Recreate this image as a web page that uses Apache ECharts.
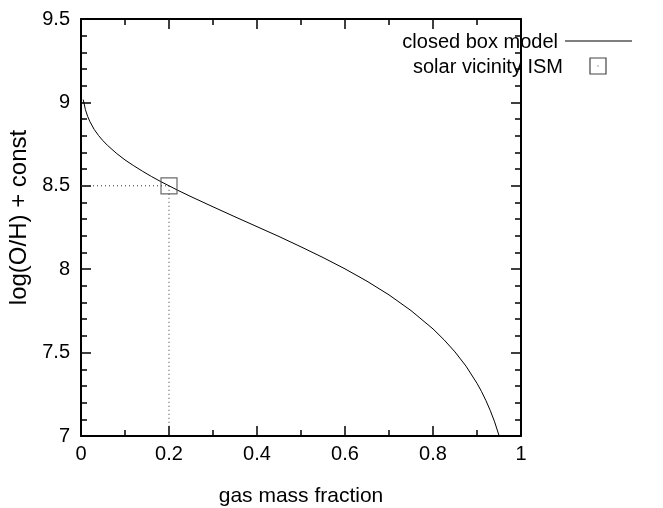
<!DOCTYPE html>
<html><head><meta charset="utf-8">
<script src="https://cdn.jsdelivr.net/npm/echarts@6/dist/echarts.min.js"></script>
<style>html,body{margin:0;padding:0;background:#fff}#c{width:663px;height:508px}</style>
</head><body><div id="c"></div>
<script>
// closed box model curve
const modelX = [0.005,0.01,0.015,0.02,0.03,0.04,0.05,0.06,0.08,0.1,0.12,0.14,0.16,0.18,0.2,0.22,0.25,0.3,0.35,0.4,0.45,0.5,0.55,0.6,0.65,0.7,0.75,0.8,0.825,0.85,0.875,0.9,0.91,0.92,0.93,0.94,0.95];
const modelY = [9.017,8.957,8.917,8.886,8.838,8.801,8.770,8.743,8.696,8.655,8.620,8.587,8.556,8.527,8.500,8.473,8.435,8.374,8.314,8.255,8.196,8.134,8.070,8.002,7.928,7.846,7.752,7.642,7.577,7.504,7.419,7.316,7.268,7.214,7.154,7.085,7.003];
// solar vicinity ISM point
const ismX = [0.2];
const ismY = [8.5];
// guide lines
const guideX = [0, 0.2, 0.2];
const guideY = [8.5, 8.5, 7];
const xTicks = ['0','0.2','0.4','0.6','0.8','1'];
const yTicks = ['7','7.5','8','8.5','9','9.5'];

const font = '"Liberation Sans", Arial, Helvetica, sans-serif';
const chart = echarts.init(document.getElementById('c'));
const axisCommon = {
  axisLine: {show: true, onZero: false, lineStyle: {color: '#000', width: 2}},
  axisTick: {show: true, inside: true, length: 10, lineStyle: {color: '#000', width: 1.5}},
  minorTick: {show: true, length: 6, lineStyle: {color: '#000', width: 1.5}},
  splitLine: {show: false},
  minorSplitLine: {show: false}
};
chart.setOption({
  animation: false,
  grid: {left: 81, right: 142, top: 19, bottom: 72, containLabel: false, outerBoundsMode: 'none'},
  xAxis: [
    Object.assign({}, axisCommon, {
      type: 'value', min: 0, max: 1, interval: 0.2, position: 'bottom',
      minorTick: Object.assign({}, axisCommon.minorTick, {splitNumber: 2}),
      axisLabel: {margin: 8, fontSize: 20, color: '#000', fontFamily: font,
        formatter: v => xTicks[Math.round(v / 0.2)]},
      name: 'gas mass fraction', nameLocation: 'middle', nameGap: 50,
      nameTextStyle: {fontSize: 21, color: '#000', fontFamily: font}
    }),
    Object.assign({}, axisCommon, {
      type: 'value', min: 0, max: 1, interval: 0.2, position: 'top',
      minorTick: Object.assign({}, axisCommon.minorTick, {splitNumber: 2}),
      axisLabel: {show: false}
    })
  ],
  yAxis: [
    Object.assign({}, axisCommon, {
      type: 'value', min: 7, max: 9.5, interval: 0.5, position: 'left',
      minorTick: Object.assign({}, axisCommon.minorTick, {splitNumber: 5}),
      axisLabel: {margin: 11, fontSize: 20, color: '#000', fontFamily: font,
        formatter: v => yTicks[Math.round((v - 7) / 0.5)]},
      name: 'log(O/H) + const', nameLocation: 'middle', nameGap: 48,
      nameTextStyle: {fontSize: 24, color: '#000', fontFamily: font, padding: [0, 0, 0, 20]}
    }),
    Object.assign({}, axisCommon, {
      type: 'value', min: 7, max: 9.5, interval: 0.5, position: 'right',
      minorTick: Object.assign({}, axisCommon.minorTick, {splitNumber: 5}),
      axisLabel: {show: false}
    })
  ],
  series: [
    {type: 'line', name: 'guide', data: guideX.map((x, i) => [x, guideY[i]]),
      showSymbol: false, lineStyle: {color: '#333', width: 1, type: [1, 3]}, z: 1},
    {type: 'line', name: 'closed box model', data: modelX.map((x, i) => [x, modelY[i]]),
      showSymbol: false, smooth: false, lineStyle: {color: '#000', width: 1}, z: 3},
    {type: 'scatter', name: 'solar vicinity ISM', data: ismX.map((x, i) => [x, ismY[i]]),
      symbol: 'rect', symbolSize: 16,
      itemStyle: {color: 'rgba(0,0,0,0)', borderColor: '#444', borderWidth: 1.2}, z: 4}
  ],
  graphic: [
    {type: 'text', right: 105, top: 32,
      style: {text: 'closed box model', font: '20px ' + font, fill: '#000', textAlign: 'right'}},
    {type: 'line', shape: {x1: 565, y1: 41, x2: 632, y2: 41}, style: {stroke: '#000', lineWidth: 1}},
    {type: 'text', right: 100, top: 57,
      style: {text: 'solar vicinity ISM', font: '20px ' + font, fill: '#000', textAlign: 'right'}},
    {type: 'rect', shape: {x: 590, y: 58, width: 16, height: 16}, style: {fill: 'none', stroke: '#444', lineWidth: 1.2}},
    {type: 'rect', shape: {x: 597.5, y: 65.5, width: 1, height: 1}, style: {fill: '#444'}}
  ]
});
</script></body></html>
